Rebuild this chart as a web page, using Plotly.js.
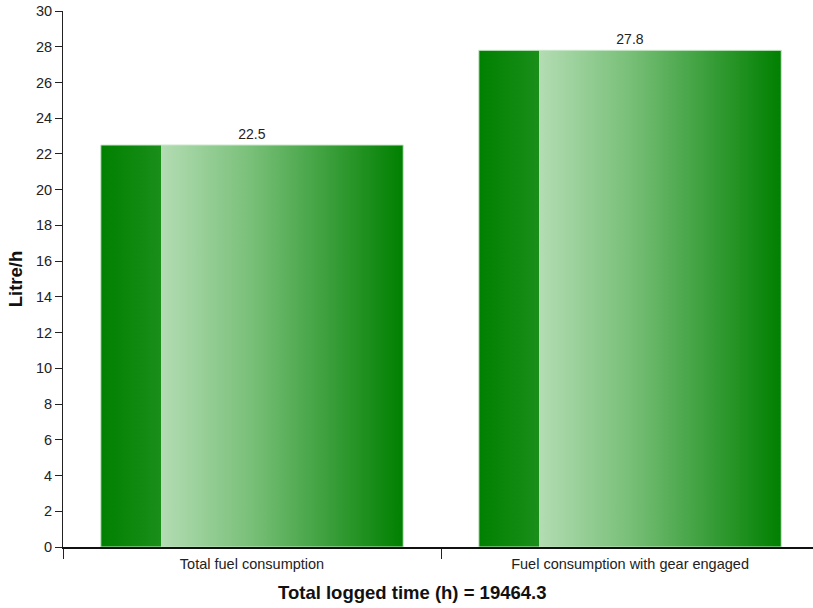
<!DOCTYPE html>
<html>
<head>
<meta charset="utf-8">
<script src="https://cdn.plot.ly/plotly-3.0.1.min.js"></script>
<style>html,body{margin:0;padding:0;background:#fff;}#chart{width:813px;height:608px;}</style>
</head>
<body>
<div id="chart"></div>
<script>
const categories = ["Total fuel consumption", "Fuel consumption with gear engaged"];
const values = [22.5, 27.8];
const valueLabels = ["22.5", "27.8"];
const yTicks = [0,2,4,6,8,10,12,14,16,18,20,22,24,26,28,30];
const xTitle = "Total logged time (h) = 19464.3";
const yTitle = "Litre/h";

const trace = {
  type: "bar",
  x: categories,
  y: values,
  text: valueLabels,
  textposition: "outside",
  cliponaxis: false,
  textfont: {family: "Liberation Sans, Arial, sans-serif", size: 14, color: "#222"},
  width: 0.8,
  marker: {color: "#008000", line: {color: "#c8e6c8", width: 1}},
  hoverinfo: "none"
};

const layout = {
  width: 813, height: 608,
  margin: {l: 63, r: 0, t: 11, b: 61},
  paper_bgcolor: "#fff", plot_bgcolor: "#fff",
  showlegend: false,
  font: {family: "Liberation Sans, Arial, sans-serif", size: 14, color: "#222"},
  xaxis: {
    type: "category",
    range: [-0.5, 1.484],
    tickson: "boundaries",
    ticks: "outside", ticklen: 10, tickcolor: "#222", tickwidth: 1,
    ticklabelstandoff: 3,
    showline: true, linecolor: "#111", linewidth: 2,
    showgrid: false, zeroline: false,
    tickfont: {size: 14.5, color: "#222"}
  },
  yaxis: {
    range: [0, 30],
    tickvals: yTicks,
    ticks: "outside", ticklen: 7, tickcolor: "#222", tickwidth: 1,
    showline: true, linecolor: "#222", linewidth: 1,
    showgrid: false, zeroline: false,
    tickfont: {size: 14.5, color: "#222"},
    title: {text: yTitle, font: {size: 18.5, color: "#111", weight: "bold"}, standoff: 8}
  },
  annotations: [{
    text: xTitle, showarrow: false,
    xref: "paper", yref: "paper",
    x: (412 - 63) / 750, y: -45 / 536,
    xanchor: "center", yanchor: "middle",
    font: {size: 18.5, color: "#111", weight: "bold"}
  }],
  bargap: 0.2
};

Plotly.newPlot("chart", [trace], layout, {displayModeBar: false, staticPlot: true}).then(function(gd){
  const svg = gd.querySelector("svg.main-svg");
  let defs = svg.querySelector("defs");
  const ns = "http://www.w3.org/2000/svg";
  const grad = document.createElementNS(ns, "linearGradient");
  grad.setAttribute("id", "barGrad");
  grad.setAttribute("x1", "0"); grad.setAttribute("y1", "0");
  grad.setAttribute("x2", "1"); grad.setAttribute("y2", "0");
  const stops = [[0, "#008000"], [0.2, "#1a8f1a"], [0.2, "#b3dcb3"], [0.5, "#78bf78"], [1, "#008000"]];
  stops.forEach(function(s){
    const st = document.createElementNS(ns, "stop");
    st.setAttribute("offset", s[0]);
    st.setAttribute("stop-color", s[1]);
    grad.appendChild(st);
  });
  defs.appendChild(grad);
  gd.querySelectorAll(".bars .point path").forEach(function(p){
    p.style.fill = "url(#barGrad)";
  });
});
</script>
</body>
</html>
